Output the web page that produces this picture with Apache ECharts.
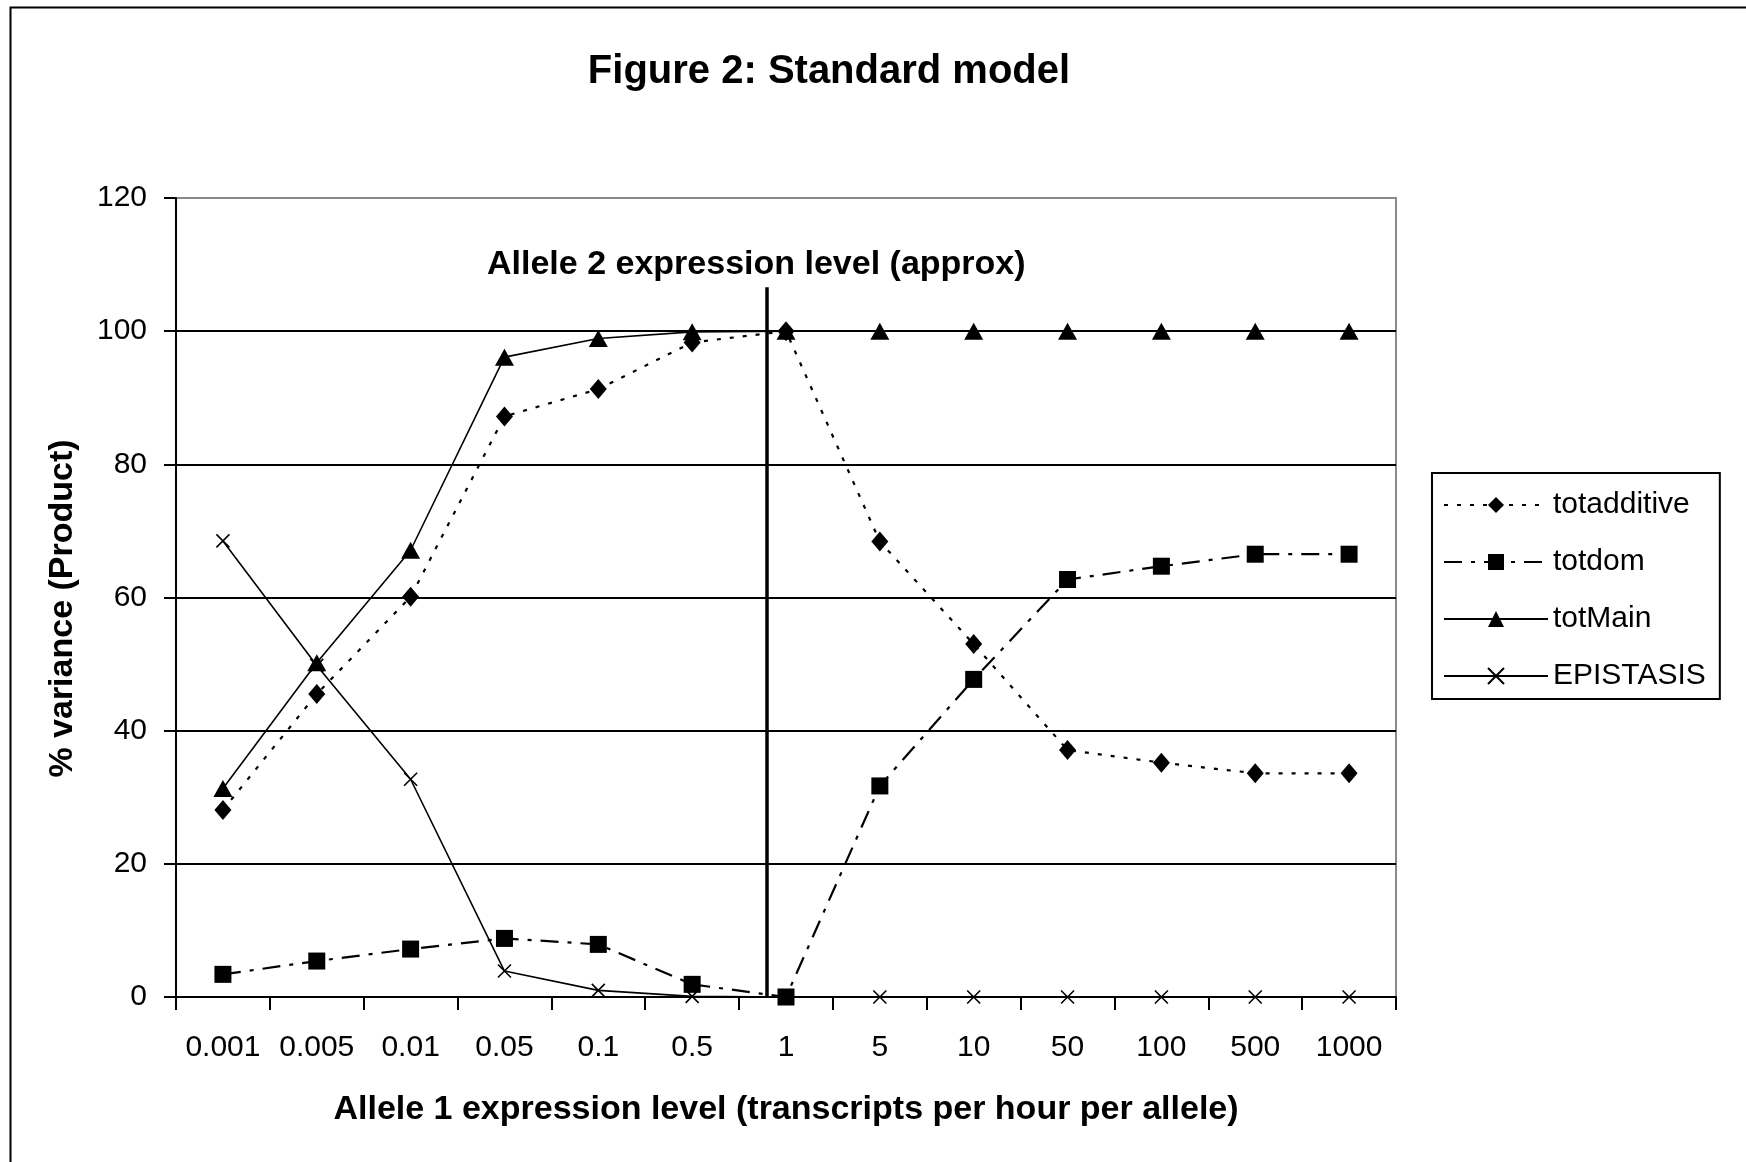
<!DOCTYPE html>
<html>
<head>
<meta charset="utf-8">
<script src="https://cdn.jsdelivr.net/npm/echarts@6/dist/echarts.min.js"></script>
<style>
  html, body { margin: 0; padding: 0; background: #fff; }
  #chart { width: 1746px; height: 1162px; }
</style>
</head>
<body>
<div id="chart"></div>
<script>
// ---- data ----
const categories = ['0.001', '0.005', '0.01', '0.05', '0.1', '0.5', '1', '5', '10', '50', '100', '500', '1000'];
const totadditive = [28.1, 45.5, 60.1, 87.2, 91.3, 98.3, 100, 68.4, 53.0, 37.1, 35.2, 33.6, 33.6];
const totdom      = [3.4, 5.4, 7.2, 8.8, 7.9, 1.9, 0, 31.7, 47.7, 62.7, 64.7, 66.5, 66.5];
const totMain     = [31.3, 50.2, 67.1, 96.1, 98.9, 99.9, 100, 100, 100, 100, 100, 100, 100];
const epistasis   = [68.5, 49.8, 32.7, 3.9, 1.0, 0.1, 0, 0, 0, 0, 0, 0, 0];
const yTicks = { min: 0, max: 120, interval: 20 };
// Allele 2 approx expression level marker (in category-index units) and its line top (y value)
const allele2Position = 5.79;
const allele2LineTop = 106.6;
const seriesNames = ['totadditive', 'totdom', 'totMain', 'EPISTASIS'];

const FONT = "'Liberation Sans', Arial, sans-serif";
const chart = echarts.init(document.getElementById('chart'), null, { renderer: 'canvas' });

const option = {
  backgroundColor: '#fff',
  animation: false,
  textStyle: { fontFamily: FONT, color: '#000' },
  title: {
    text: 'Figure 2: Standard model',
    left: 824, textAlign: 'center',
    top: 47,
    textStyle: { fontFamily: FONT, fontSize: 40, fontWeight: 'bold', color: '#000', lineHeight: 40 }
  },
  graphic: [{
    type: 'rect', left: 8, top: 5, silent: true, z: -1,
    shape: { width: 1800, height: 1200 },
    style: { fill: 'none', stroke: '#000', lineWidth: 2 }
  }],
  legend: {
    orient: 'vertical',
    left: 1432, top: 473,
    data: seriesNames,
    itemWidth: 104, itemHeight: 20, itemGap: 27,
    padding: [17, 14, 8, 11],
    borderColor: '#000', borderWidth: 2,
    backgroundColor: '#fff',
    textStyle: { fontFamily: FONT, fontSize: 30, color: '#000', lineHeight: 30 }
  },
  grid: {
    left: 176, top: 198, right: 350, bottom: 165,
    containLabel: false, outerBoundsMode: 'none',
    show: true, borderColor: '#8a8a8a', borderWidth: 2, backgroundColor: '#fff'
  },
  xAxis: [{
    type: 'category', data: categories, boundaryGap: true,
    name: 'Allele 1 expression level (transcripts per hour per allele)',
    nameLocation: 'middle', nameGap: 96,
    nameTextStyle: { fontFamily: FONT, fontSize: 34, fontWeight: 'bold', color: '#000' },
    axisLine: { onZero: false, lineStyle: { color: '#000', width: 2 } },
    axisTick: { show: true, length: 13, inside: false, interval: 0, lineStyle: { color: '#000', width: 2 } },
    axisLabel: { interval: 0, margin: 36, fontFamily: FONT, fontSize: 30, color: '#000' },
    splitLine: { show: false }
  }, {
    type: 'value', min: -0.5, max: 12.5, show: false, position: 'bottom',
    axisLine: { show: false, onZero: false }, splitLine: { show: false }
  }],
  yAxis: {
    type: 'value', min: yTicks.min, max: yTicks.max, interval: yTicks.interval,
    name: '% variance (Product)',
    nameLocation: 'middle', nameGap: 96, nameRotate: 90,
    nameTextStyle: { fontFamily: FONT, fontSize: 34, fontWeight: 'bold', color: '#000', padding: [0, 22, 0, 0] },
    axisLine: { show: true, onZero: false, lineStyle: { color: '#000', width: 2 } },
    axisTick: { show: true, length: 12, inside: false, lineStyle: { color: '#000', width: 2 } },
    axisLabel: { margin: 29, fontFamily: FONT, fontSize: 30, color: '#000' },
    splitLine: { show: true, showMinLine: false, showMaxLine: false, lineStyle: { color: '#000', width: 2 } }
  },
  series: [
    {
      name: 'totadditive', type: 'line', data: totadditive,
      symbol: 'diamond', symbolSize: [17, 20], showAllSymbol: true,
      lineStyle: { color: '#000', width: 2.2, type: [4, 9] },
      itemStyle: { color: '#000' }, z: 3
    },
    {
      name: 'totdom', type: 'line', data: totdom,
      symbol: 'rect', symbolSize: 17, showAllSymbol: true,
      lineStyle: { color: '#000', width: 2.2, type: [18, 9, 4, 9] },
      itemStyle: { color: '#000' }, z: 3
    },
    {
      name: 'totMain', type: 'line', data: totMain,
      symbol: 'triangle', symbolSize: [19, 17], showAllSymbol: true,
      lineStyle: { color: '#000', width: 1.6, type: 'solid' },
      itemStyle: { color: '#000' }, z: 4
    },
    {
      name: 'EPISTASIS', type: 'line', data: epistasis,
      symbol: 'path://M0,0L10,10M10,0L0,10', symbolSize: 13, showAllSymbol: true,
      lineStyle: { color: '#000', width: 1.6, type: 'solid' },
      itemStyle: { color: '#000', borderColor: '#000', borderWidth: 1.6 }, z: 4
    },
    {
      name: 'allele2', type: 'line', xAxisIndex: 1, yAxisIndex: 0, data: [],
      silent: true,
      markLine: {
        silent: true, symbol: ['none', 'none'],
        lineStyle: { color: '#000', width: 3.5, type: 'solid' },
        label: {
          show: true, position: 'end', distance: 6, offset: [-10, 0],
          formatter: 'Allele 2 expression level (approx)',
          fontFamily: FONT, fontSize: 34, fontWeight: 'bold', color: '#000'
        },
        emphasis: { disabled: true },
        data: [[{ coord: [allele2Position, 0] }, { coord: [allele2Position, allele2LineTop] }]]
      }
    }
  ]
};
chart.setOption(option);
</script>
</body>
</html>
